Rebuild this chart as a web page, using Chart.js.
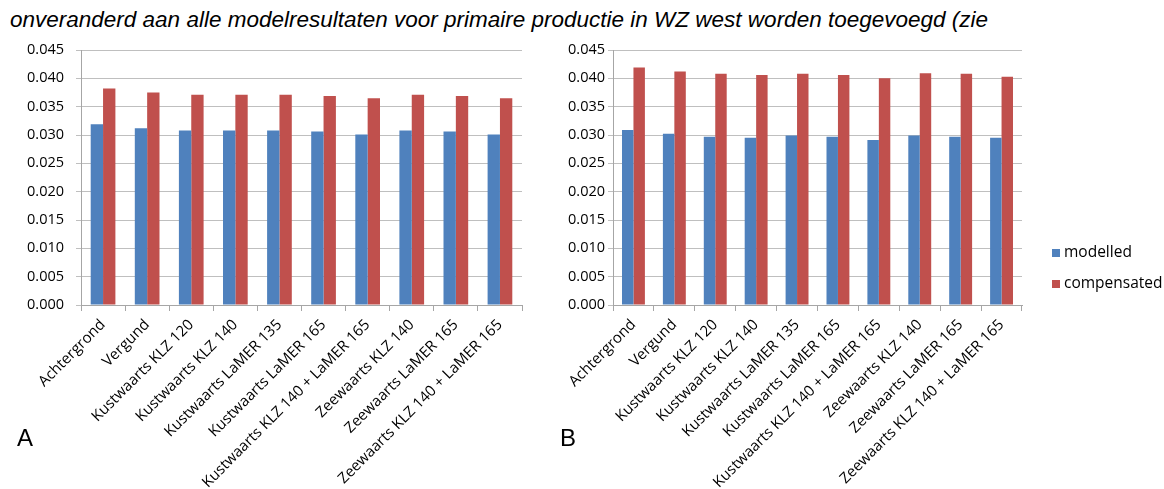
<!DOCTYPE html>
<html>
<head>
<meta charset="utf-8">
<script src="https://cdn.jsdelivr.net/npm/chart.js@4.4.1/dist/chart.umd.min.js"></script>
<style>
  body { margin:0; background:#fff; width:1164px; height:489px; overflow:hidden; position:relative; }
  #kop { position:absolute; left:10px; top:8px; font-family:"Liberation Sans", Arial, sans-serif; font-style:italic; font-size:22.5px; line-height:24px; color:#000; white-space:nowrap; }
  .letter { position:absolute; top:424px; font-family:"Liberation Sans", Arial, sans-serif; font-size:24px; line-height:28px; color:#000; }
  canvas { position:absolute; top:40px; }
  #chartA { left:0; }
  #chartB { left:530px; }
</style>
</head>
<body>
<div id="kop">onveranderd aan alle modelresultaten voor primaire productie in WZ west worden toegevoegd (zie</div>
<canvas id="chartA" width="530" height="449"></canvas>
<canvas id="chartB" width="634" height="449"></canvas>
<div class="letter" style="left:17px">A</div>
<div class="letter" style="left:560px">B</div>
<script>
var categories = ['Achtergrond', 'Vergund', 'Kustwaarts KLZ 120', 'Kustwaarts KLZ 140',
  'Kustwaarts LaMER 135', 'Kustwaarts LaMER 165', 'Kustwaarts KLZ 140 + LaMER 165',
  'Zeewaarts KLZ 140', 'Zeewaarts LaMER 165', 'Zeewaarts KLZ 140 + LaMER 165']

// panel A
var modelledA = [0.0319, 0.0312, 0.0308, 0.0308, 0.0308, 0.0306, 0.0301, 0.0308, 0.0306, 0.0301]
var compensatedA = [0.0382, 0.0375, 0.0371, 0.0371, 0.0371, 0.0369, 0.0365, 0.0371, 0.0369, 0.0365]
// panel B
var modelledB = [0.0309, 0.0302, 0.0297, 0.0295, 0.0299, 0.0297, 0.0291, 0.0299, 0.0297, 0.0295]
var compensatedB = [0.0419, 0.0412, 0.0408, 0.0406, 0.0408, 0.0406, 0.0400, 0.0409, 0.0408, 0.0403]

var seriesNames = ['modelled', 'compensated']
var yMin = 0, yMax = 0.045, yStep = 0.005

var blue = '#4f81bd'
var red = '#c0504d'

Chart.defaults.font.family = "'Open Sans', sans-serif"
Chart.defaults.color = '#000'

// legend on the right of panel B, drawn from the datasets
var sideLegend = {
  id: 'sideLegend',
  afterDraw: function(chart){
    if (!chart.options.plugins.sideLegend.show) return
    var ctx = chart.ctx
    var a = chart.chartArea
    ctx.save()
    ctx.font = "15.5px 'Open Sans', sans-serif"
    ctx.textBaseline = 'middle'
    chart.data.datasets.forEach(function(ds, i){
      var y = a.top + 203 + i * 31
      ctx.fillStyle = ds.backgroundColor
      ctx.fillRect(a.right + 30, y - 4, 8, 8)
      ctx.fillStyle = '#000'
      ctx.fillText(ds.label, a.right + 42, y)
    })
    ctx.restore()
  }
}

function makeChart(el, modelled, compensated, yWidth, yPad, padRight, legend){
  return new Chart(document.querySelector(el), {
    type: 'bar',
    data: {
      labels: categories,
      datasets: [
        { label: seriesNames[0], data: modelled, backgroundColor: blue },
        { label: seriesNames[1], data: compensated, backgroundColor: red }
      ]
    },
    options: {
      responsive: false,
      animation: false,
      layout: { padding: { top: 10, right: padRight, left: 0, bottom: 0 } },
      datasets: { bar: { categoryPercentage: 0.56, barPercentage: 1.0 } },
      plugins: {
        legend: { display: false },
        tooltip: { enabled: false },
        sideLegend: { show: legend }
      },
      scales: {
        x: {
          offset: true,
          grid: { offset: true, drawOnChartArea: false, drawTicks: true, tickLength: 6, color: '#a6a6a6' },
          border: { display: true, color: '#a6a6a6' },
          ticks: { autoSkip: false, maxRotation: 45, minRotation: 45, padding: 5, font: { size: 15 } },
          afterFit: function(s){ s.height = 184; s.paddingLeft = 0; s.paddingRight = 0 }
        },
        y: {
          min: yMin, max: yMax,
          grid: { color: '#bfbfbf', drawTicks: true, tickLength: 5 },
          border: { display: true, color: '#a6a6a6' },
          ticks: { stepSize: yStep, padding: yPad, font: { size: 14.5 },
            callback: function(v){ return v.toFixed(3) } },
          afterFit: function(s){ s.width = yWidth; s.paddingTop = 0; s.paddingBottom = 0 }
        }
      }
    },
    plugins: [sideLegend]
  })
}

var chartA = makeChart('#chartA', modelledA, compensatedA, 81, 12, 8, false)
var chartB = makeChart('#chartB', modelledB, compensatedB, 83, 3, 142, true)
</script>
</body>
</html>
